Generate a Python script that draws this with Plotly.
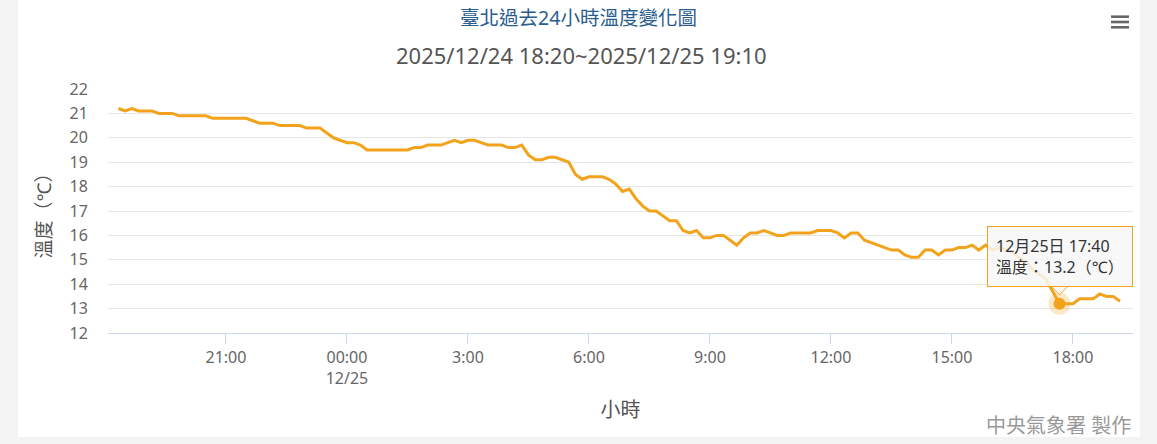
import pandas as pd
import plotly.graph_objects as go

# 臺北 10-minute temperature readings, 2025/12/24 18:20 .. 2025/12/25 19:10
start_time = "2025-12-24 18:20"
temps = [
    21.2, 21.1, 21.2, 21.1, 21.1, 21.1, 21.0, 21.0, 21.0, 20.9,
    20.9, 20.9, 20.9, 20.9, 20.8, 20.8, 20.8, 20.8, 20.8, 20.8,
    20.7, 20.6, 20.6, 20.6, 20.5, 20.5, 20.5, 20.5, 20.4, 20.4,
    20.4, 20.2, 20.0, 19.9, 19.8, 19.8, 19.7, 19.5, 19.5, 19.5,
    19.5, 19.5, 19.5, 19.5, 19.6, 19.6, 19.7, 19.7, 19.7, 19.8,
    19.9, 19.8, 19.9, 19.9, 19.8, 19.7, 19.7, 19.7, 19.6, 19.6,
    19.7, 19.3, 19.1, 19.1, 19.2, 19.2, 19.1, 19.0, 18.5, 18.3,
    18.4, 18.4, 18.4, 18.3, 18.1, 17.8, 17.9, 17.5, 17.2, 17.0,
    17.0, 16.8, 16.6, 16.6, 16.2, 16.1, 16.2, 15.9, 15.9, 16.0,
    16.0, 15.8, 15.6, 15.9, 16.1, 16.1, 16.2, 16.1, 16.0, 16.0,
    16.1, 16.1, 16.1, 16.1, 16.2, 16.2, 16.2, 16.1, 15.9, 16.1,
    16.1, 15.8, 15.7, 15.6, 15.5, 15.4, 15.4, 15.2, 15.1, 15.1,
    15.4, 15.4, 15.2, 15.4, 15.4, 15.5, 15.5, 15.6, 15.4, 15.6,
    15.4, 15.5, 15.4, 15.3, 15.1, 14.9, 14.6, 14.4, 14.2, 13.7,
    13.2, 13.2, 13.2, 13.4, 13.4, 13.4, 13.6, 13.5, 13.5, 13.3,
]
tick_times = ["2025-12-24 21:00", "2025-12-25 00:00", "2025-12-25 03:00",
              "2025-12-25 06:00", "2025-12-25 09:00", "2025-12-25 12:00",
              "2025-12-25 15:00", "2025-12-25 18:00"]
tick_labels = ["21:00", "00:00<br>12/25", "3:00", "6:00", "9:00",
               "12:00", "15:00", "18:00"]
y_ticks = list(range(12, 23))
hover_idx = 140  # 17:40 point shown in the tooltip

times = pd.date_range(start_time, periods=len(temps), freq="10min")
LINE = "#f3a31b"
FONT = "Noto Sans, Noto Sans CJK TC, sans-serif"

fig = go.Figure()
fig.add_trace(go.Scatter(x=times, y=temps, mode="lines",
                         line=dict(color=LINE, width=3), hoverinfo="skip"))
# hovered point + halo
fig.add_trace(go.Scatter(x=[times[hover_idx]], y=[temps[hover_idx]], mode="markers",
                         marker=dict(size=22, color="rgba(243,163,27,0.25)"),
                         hoverinfo="skip"))
fig.add_trace(go.Scatter(x=[times[hover_idx]], y=[temps[hover_idx]], mode="markers",
                         marker=dict(size=12, color=LINE), hoverinfo="skip"))

fig.update_layout(
    width=1157, height=444,
    margin=dict(l=108, r=24, t=89, b=111),
    paper_bgcolor="white", plot_bgcolor="white",
    showlegend=False,
    font=dict(family=FONT, color="#666666"),
    title=dict(text="臺北過去24小時溫度變化圖", x=578.5 / 1157, xanchor="center",
               y=1 - 18 / 444, yanchor="middle",
               font=dict(size=19.5, color="#2a5d8f", family=FONT)),
)

fig.update_xaxes(
    type="date", range=["2025-12-24 18:04:30", "2025-12-25 19:29:20"],
    tickvals=tick_times, ticktext=tick_labels,
    showgrid=False, zeroline=False,
    showline=True, linecolor="#ccd6eb", linewidth=1,
    ticks="outside", ticklen=10, tickcolor="#ccd6eb",
    tickfont=dict(size=16, color="#666666"),
    title=dict(text="小時", standoff=14, font=dict(size=20, color="#555555")),
    fixedrange=True,
)
fig.update_yaxes(
    range=[12, 22], tickvals=y_ticks,
    showgrid=True, gridcolor="#e6e6e6", gridwidth=1, zeroline=False,
    ticks="outside", ticklen=16, tickcolor="rgba(0,0,0,0)",
    tickfont=dict(size=16, color="#666666"),
    title=dict(text="溫度（℃）", standoff=12, font=dict(size=19, color="#555555")),
    fixedrange=True,
)


def px(x):
    return (x - 108) / 1025


def py(y):
    return (333 - y) / 244


# subtitle and credit
fig.add_annotation(text="2025/12/24 18:20~2025/12/25 19:10", xref="paper", yref="paper",
                   x=px(581.5), y=py(55), xanchor="center", yanchor="middle",
                   showarrow=False, font=dict(size=22, color="#555555"))
fig.add_annotation(text="中央氣象署 製作", xref="paper", yref="paper",
                   x=1, y=py(425), xanchor="right", yanchor="middle",
                   showarrow=False, font=dict(size=20, color="#999999"))

# tooltip
t = times[hover_idx]
fig.add_annotation(text=f"{t.month}月{t.day}日 {t:%H:%M}<br>溫度：{temps[hover_idx]}（℃）",
                   x=t, y=temps[hover_idx], xref="x", yref="y",
                   xanchor="center", yanchor="bottom", yshift=17, showarrow=False,
                   align="left", bgcolor="rgba(247,247,247,0.85)",
                   bordercolor=LINE, borderwidth=1, borderpad=8,
                   font=dict(size=16, color="#333333"))
fig.add_shape(type="path", xref="x", yref="y", xsizemode="pixel", ysizemode="pixel",
              xanchor=t, yanchor=temps[hover_idx],
              path="M -8,17 L 0,9 L 8,17", fillcolor="rgba(247,247,247,0.85)",
              line=dict(color=LINE, width=1), layer="above")

# page frame (light grey around the white card)
for x0, x1, y0, y1 in [(0, 18, 0, 444), (1140, 1157, 0, 444), (0, 1157, 437, 444)]:
    fig.add_shape(type="rect", xref="paper", yref="paper",
                  x0=px(x0), x1=px(x1), y0=py(y1), y1=py(y0),
                  fillcolor="#f3f3f3", line=dict(width=0), layer="below")

# menu (hamburger) icon
for yy in [16.7, 22.0, 27.3]:
    fig.add_shape(type="line", xref="paper", yref="paper",
                  x0=px(1111), x1=px(1129), y0=py(yy), y1=py(yy),
                  line=dict(color="#666666", width=2.6))

fig.write_html("out.html", config=dict(displayModeBar=False),
               post_script="document.body.style.margin='0';")
